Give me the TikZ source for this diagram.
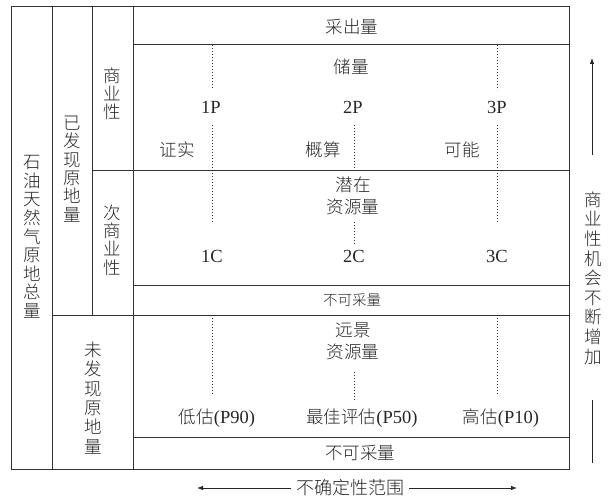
\documentclass[tikz,border=0pt]{standalone}
\usepackage{fontspec}
\setmainfont{Liberation Serif}
\newfontfamily\cj{Noto Sans CJK SC}[UprightFont={* Light}]
\usetikzlibrary{arrows.meta}
\begin{document}
\begin{tikzpicture}[x=1pt,y=-1pt,
 frame/.style={draw=black!80,line width=1pt},
 dots/.style={draw=black!80,line width=0.8pt,dash pattern=on 0.8pt off 2.2pt},
 lbl/.style={inner sep=0pt,text=black!85,font=\fontsize{18.5}{20}\selectfont},
 clbl/.style={inner sep=0pt,align=center,text=black!85,font=\cj\fontsize{17.5}{22}\selectfont},
 smalllbl/.style={inner sep=0pt,text=black!85,font=\cj\fontsize{14.5}{17}\selectfont},
 vtext/.style={inner sep=0pt,align=center,text=black!85,font=\cj\fontsize{17.5}{#1}\selectfont},
 arr/.style={draw=black!85,line width=0.8pt,-{Latex[length=6pt,width=4.5pt]}},
 plainline/.style={draw=black!85,line width=0.8pt},
]
\useasboundingbox (0,0) rectangle (613,500);
% frame
\draw[frame] (11,7) rectangle (569,469);
\draw[frame] (52,7) -- (52,469);
\draw[frame] (92,7) -- (92,315);
\draw[frame] (133,7) -- (133,469);
\draw[frame] (133,45) -- (569,45);
\draw[frame] (92,170) -- (569,170);
\draw[frame] (133,285) -- (569,285);
\draw[frame] (52,315) -- (569,315);
\draw[frame] (133,437) -- (569,437);
% dotted lines
\draw[dots] (212,45) -- (212,88);
\draw[dots] (212,125) -- (212,223);
\draw[dots] (212,315) -- (212,395);
\draw[dots] (354,125) -- (354,168);
\draw[dots] (354,222) -- (354,245);
\draw[dots] (354,372) -- (354,400);
\draw[dots] (497,45) -- (497,90);
\draw[dots] (497,125) -- (497,223);
\draw[dots] (497,315) -- (497,395);
% vertical labels
\node[vtext=18.6] (total) at (32,237) {石\\油\\天\\然\\气\\原\\地\\总\\量};
\node[vtext=18.4] (found) at (72,169) {已\\发\\现\\原\\地\\量};
\node[vtext=18] (comm) at (112,94) {商\\业\\性};
\node[vtext=18.3] (subcomm) at (112,240) {次\\商\\业\\性};
\node[vtext=19.4] (unfound) at (93,398) {未\\发\\现\\原\\地\\量};
\node[vtext=19.6] (opp) at (593,278) {商\\业\\性\\机\\会\\不\\断\\增\\加};
% texts in main area
\node[clbl] (prod) at (352,27) {采出量};
\node[clbl] (res) at (351,67) {储量};
\node[lbl] (p1) at (211,107) {1P};
\node[lbl] (p2) at (353,107) {2P};
\node[lbl] (p3) at (497,107) {3P};
\node[clbl] (proved) at (177,150) {证实};
\node[clbl] (prob) at (323,150) {概算};
\node[clbl] (poss) at (462,150) {可能};
\node[clbl] (contres) at (353,196) {潜在\\资源量};
\node[lbl] (c1) at (212,256) {1C};
\node[lbl] (c2) at (354,256) {2C};
\node[lbl] (c3) at (497,256) {3C};
\node[smalllbl] (unrec1) at (352,300) {不可采量};
\node[clbl] (prosp) at (353,341) {远景\\资源量};
\node[lbl] (low) at (217,418) {{\cj\fontsize{17.5}{20}\selectfont 低估}(P90)};
\node[lbl] (best) at (362,418) {{\cj\fontsize{17.5}{20}\selectfont 最佳评估}(P50)};
\node[lbl] (high) at (501,418) {{\cj\fontsize{17.5}{20}\selectfont 高估}(P10)};
\node[clbl] (unrec2) at (360,453) {不可采量};
% right arrow
\coordinate (upA) at (592,155);
\coordinate (upB) at (592,58);
\draw[arr] (upA) -- (upB);
\coordinate (lowA) at (592,400);
\coordinate (lowB) at (592,463);
\draw[plainline] (lowA) -- (lowB);
% bottom arrow
\node[inner sep=0pt,text=black!85,font=\cj\fontsize{18}{20}\selectfont] (unc) at (350,488) {不确定性范围};
\coordinate (leftTip) at (197,488);
\coordinate (rightTip) at (517,488);
\draw[arr] ([xshift=-5pt]unc.west) -- (leftTip);
\draw[arr] ([xshift=5pt]unc.east) -- (rightTip);
\end{tikzpicture}
\end{document}
